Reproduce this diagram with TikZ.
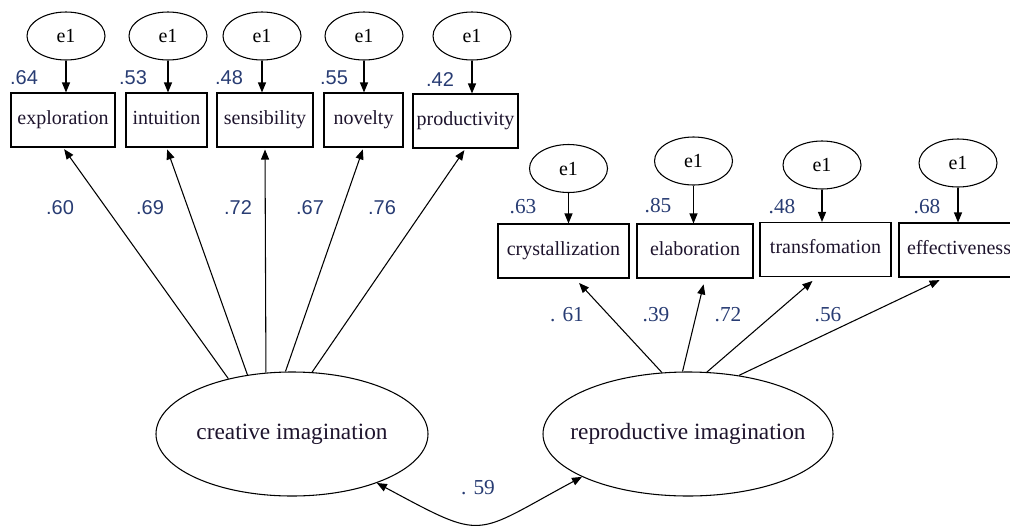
\documentclass[tikz,border=0pt]{standalone}
\usepackage{fontspec}
\setmainfont{Liberation Serif}
\setsansfont{Liberation Sans}
\usetikzlibrary{shapes.geometric, arrows.meta, positioning}
\definecolor{numblue}{RGB}{40,60,115}
\definecolor{labdark}{RGB}{30,20,45}
\tikzset{
>={Triangle[length=7.5pt,width=6pt]}, % filled arrow heads
x=0.75pt, y=-0.75pt, % one unit is one pixel of the drawing, y runs down
obs/.style={draw, rectangle, minimum height=40.5pt, inner sep=0pt, text height=9pt, text depth=2.4pt, font=\fontsize{15}{18}\selectfont, text=labdark}, % observed variables
err/.style={draw, ellipse, minimum width=58.5pt, minimum height=36pt, inner sep=0pt, font=\fontsize{15}{18}\selectfont}, % error terms
lat/.style={draw, ellipse, minimum height=93pt, inner xsep=-18pt, inner ysep=0pt, font=\fontsize{17.5}{20}\selectfont, text=labdark}, % latent factors
sanum/.style={text=numblue, font=\sffamily\fontsize{15}{18}\selectfont}, % numbers, left factor
senum/.style={text=numblue, font=\fontsize{16}{19}\selectfont}, % numbers, right factor
}

\begin{document}
\begin{tikzpicture}[line width=0.8pt]
\useasboundingbox (0,0) rectangle (1010,529);
\clip (0,0) rectangle (1010,529);

% observed variables
\node[obs, minimum width=78pt] (explo) at (63,120) {exploration};
\node[obs, minimum width=60.75pt] (intui) at (166.5,120) {intuition};
\node[obs, minimum width=72pt] (sensi) at (265,120) {sensibility};
\node[obs, minimum width=59.25pt] (novel) at (363.5,120) {novelty};
\node[obs, minimum width=78.75pt] (produ) at (465.5,121) {productivity};
\node[obs, minimum width=98.25pt] (cryst) at (563.5,251) {crystallization};
\node[obs, minimum width=87pt] (elabo) at (695,251) {elaboration};
\node[obs, minimum width=98.25pt] (trans) at (825.5,249.5) {transfomation};
\node[obs, minimum width=90pt] (effec) at (959,250) {effectiveness};

% error terms
\node[err] (d1) at (66,36) {e1};
\node[err] (d2) at (168,36) {e1};
\node[err] (d3) at (262,36) {e1};
\node[err] (d4) at (364,36) {e1};
\node[err] (d5) at (472,36) {e1};
\node[err] (d6) at (568.5,168.5) {e1};
\node[err] (d7) at (693.5,161) {e1};
\node[err] (d8) at (822,165) {e1};
\node[err] (d9) at (958,163) {e1};

% latent factors
\node[lat, minimum width=204pt] (ci) at (292,434) {creative imagination};
\node[lat, minimum width=217.5pt] (ri) at (688,434) {reproductive imagination};

% errors to indicators
\foreach \d/\x in {d1/explo, d2/intui, d3/sensi, d4/novel, d5/produ, d6/cryst, d7/elabo, d8/trans, d9/effec}
  \draw[->] (\d.south) -- (\d.south |- \x.north);

% loadings
\foreach \a/\x in {139/explo, 127/intui, 113/sensi, 96/novel, 72/produ}
  \draw[->, shorten >=1.5pt] (ci.\a) -- (\x.south);
\foreach \a/\x/\s in {113/cryst/8.6pt, 95/elabo/7.5pt, 73/trans/-6.4pt, 49/effec/-10.5pt}
  \draw[->, shorten >=4.5pt] (ri.\a) -- ([xshift=\s]\x.south);

% correlation between the factors
\draw[<->] (ci.-30) .. controls +(110,59) and +(-110,59) .. (ri.-158);

% squared multiple correlations
\node[sanum] (r1) at (24,78) {.64};
\node[sanum] (r2) at (133,78) {.53};
\node[sanum] (r3) at (229,78) {.48};
\node[sanum] (r4) at (334,78) {.55};
\node[sanum] (r5) at (440,80) {.42};
\node[senum] (r6) at (523,207) {.63};
\node[senum] (r7) at (658,206) {.85};
\node[senum] (r8) at (782,207) {.48};
\node[senum] (r9) at (927,207) {.68};

% loading values
\node[sanum] (l1) at (60,208) {.60};
\node[sanum] (l2) at (150,208) {.69};
\node[sanum] (l3) at (238,208) {.72};
\node[sanum] (l4) at (310,208) {.67};
\node[sanum] (l5) at (382,208) {.76};
\node[senum] (l6) at (567,315) {. 61};
\node[senum] (l7) at (656,315) {.39};
\node[senum] (l8) at (728,315) {.72};
\node[senum] (l9) at (828,315) {.56};
\node[senum] (cov) at (478,488) {. 59};
\end{tikzpicture}
\end{document}
